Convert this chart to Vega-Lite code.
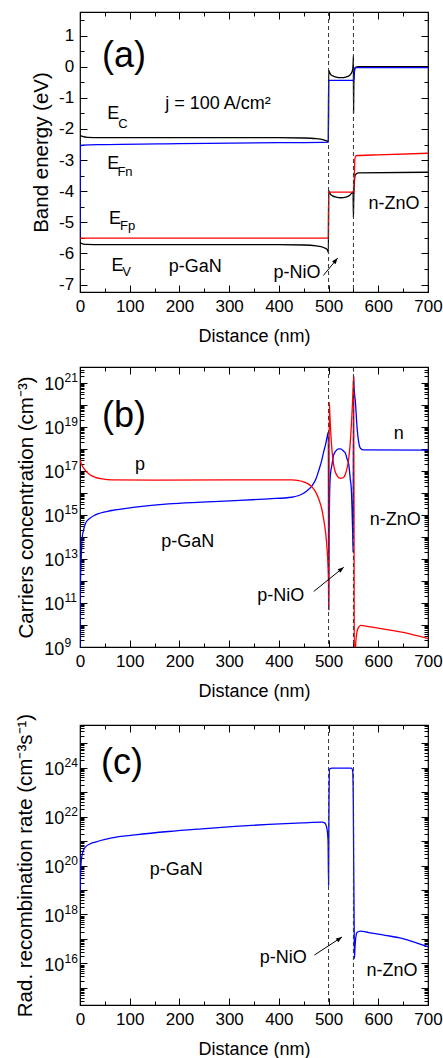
{
  "$schema": "https://vega.github.io/schema/vega-lite/v6.json",
  "background": "white",
  "padding": {"left": 14, "top": 10, "right": 2, "bottom": 2},
  "config": {
    "font": "Liberation Sans",
    "view": {"stroke": "black", "strokeWidth": 1.2},
    "axis": {"domain": false, "grid": false, "tickColor": "black", "tickWidth": 1, "labelColor": "black", "labelFont": "Liberation Sans", "labelFontSize": 17, "titleFont": "Liberation Sans", "titleFontWeight": "normal", "titleColor": "black", "labelFlush": false, "labelOverlap": false},
    "text": {"font": "Liberation Sans", "color": "black"}
  },
  "resolve": {"scale": {"color": "independent"}},
  "datasets": {
    "iface": [{"x": 500}, {"x": 550}],
    "a_lines": [
      {"s": "Ec", "x": 0, "y": -2.2}, {"s": "Ec", "x": 5, "y": -2.24}, {"s": "Ec", "x": 15, "y": -2.27}, {"s": "Ec", "x": 40, "y": -2.28}, {"s": "Ec", "x": 200, "y": -2.28}, {"s": "Ec", "x": 400, "y": -2.28}, {"s": "Ec", "x": 450, "y": -2.29}, {"s": "Ec", "x": 475, "y": -2.31}, {"s": "Ec", "x": 490, "y": -2.35}, {"s": "Ec", "x": 497, "y": -2.39}, {"s": "Ec", "x": 499.6, "y": -2.42}, {"s": "Ec", "x": 500.2, "y": -0.12}, {"s": "Ec", "x": 503, "y": -0.22}, {"s": "Ec", "x": 508, "y": -0.29}, {"s": "Ec", "x": 515, "y": -0.33}, {"s": "Ec", "x": 525, "y": -0.35}, {"s": "Ec", "x": 535, "y": -0.33}, {"s": "Ec", "x": 542, "y": -0.28}, {"s": "Ec", "x": 546, "y": -0.2}, {"s": "Ec", "x": 548.5, "y": -0.08}, {"s": "Ec", "x": 549.5, "y": 0.1}, {"s": "Ec", "x": 550, "y": 0.35}, {"s": "Ec", "x": 550.3, "y": -1.47}, {"s": "Ec", "x": 550.8, "y": -0.6}, {"s": "Ec", "x": 552, "y": -0.1}, {"s": "Ec", "x": 554, "y": -0.02}, {"s": "Ec", "x": 560, "y": 0}, {"s": "Ec", "x": 700, "y": 0},
      {"s": "Ev", "x": 0, "y": -5.66}, {"s": "Ev", "x": 5, "y": -5.69}, {"s": "Ev", "x": 15, "y": -5.71}, {"s": "Ev", "x": 40, "y": -5.72}, {"s": "Ev", "x": 400, "y": -5.72}, {"s": "Ev", "x": 450, "y": -5.73}, {"s": "Ev", "x": 475, "y": -5.76}, {"s": "Ev", "x": 490, "y": -5.81}, {"s": "Ev", "x": 497, "y": -5.87}, {"s": "Ev", "x": 499.6, "y": -5.96}, {"s": "Ev", "x": 500.2, "y": -3.98}, {"s": "Ev", "x": 503, "y": -4.08}, {"s": "Ev", "x": 508, "y": -4.15}, {"s": "Ev", "x": 515, "y": -4.19}, {"s": "Ev", "x": 525, "y": -4.21}, {"s": "Ev", "x": 535, "y": -4.19}, {"s": "Ev", "x": 542, "y": -4.14}, {"s": "Ev", "x": 546, "y": -4.07}, {"s": "Ev", "x": 549.3, "y": -4.02}, {"s": "Ev", "x": 550, "y": -4.84}, {"s": "Ev", "x": 550.6, "y": -4.3}, {"s": "Ev", "x": 552, "y": -3.7}, {"s": "Ev", "x": 554, "y": -3.47}, {"s": "Ev", "x": 560, "y": -3.41}, {"s": "Ev", "x": 700, "y": -3.39},
      {"s": "EFp", "x": 0, "y": -5.51}, {"s": "EFp", "x": 499.6, "y": -5.51}, {"s": "EFp", "x": 500.2, "y": -4.03}, {"s": "EFp", "x": 549.5, "y": -4.03}, {"s": "EFp", "x": 551, "y": -3.9}, {"s": "EFp", "x": 552, "y": -3.4}, {"s": "EFp", "x": 553, "y": -2.95}, {"s": "EFp", "x": 555, "y": -2.86}, {"s": "EFp", "x": 600, "y": -2.83}, {"s": "EFp", "x": 700, "y": -2.78},
      {"s": "EFn", "x": 0, "y": -5.5}, {"s": "EFn", "x": 0.6, "y": -2.56}, {"s": "EFn", "x": 5, "y": -2.52}, {"s": "EFn", "x": 50, "y": -2.5}, {"s": "EFn", "x": 200, "y": -2.47}, {"s": "EFn", "x": 400, "y": -2.44}, {"s": "EFn", "x": 499.6, "y": -2.42}, {"s": "EFn", "x": 500.2, "y": -0.44}, {"s": "EFn", "x": 549.5, "y": -0.44}, {"s": "EFn", "x": 551, "y": -0.35}, {"s": "EFn", "x": 552.5, "y": -0.1}, {"s": "EFn", "x": 554, "y": -0.03}, {"s": "EFn", "x": 700, "y": -0.03}
    ],
    "a_text": [
      {"t": "E", "x": 67, "y": -1.69}, {"t": "E", "x": 67, "y": -3.29}, {"t": "E", "x": 70.4, "y": -5.05}, {"t": "E", "x": 75.5, "y": -6.55},
      {"t": "j = 100 A/cm²", "x": 277.7, "y": -1.37}, {"t": "p-GaN", "x": 232, "y": -6.6}, {"t": "p-NiO", "x": 436.6, "y": -6.79}, {"t": "n-ZnO", "x": 631.8, "y": -4.57}
    ],
    "a_sub": [{"t": "C", "x": 86.5, "y": -1.955}, {"t": "Fn", "x": 90.5, "y": -3.5}, {"t": "Fp", "x": 95.6, "y": -5.25}, {"t": "V", "x": 93.6, "y": -6.71}],
    "a_big": [{"t": "(a)", "x": 88.5, "y": 0.0}],
    "a_arrow": [{"x": 489.5, "y": -6.71, "x2": 518.3, "y2": -6.15}],
    "b_lines": [
      {"s": "n", "x": 0, "y": 7.9e8}, {"s": "n", "x": 0.5, "y": 1e11}, {"s": "n", "x": 1, "y": 1e12}, {"s": "n", "x": 2, "y": 5e12}, {"s": "n", "x": 4, "y": 7.94e13}, {"s": "n", "x": 7, "y": 2e14}, {"s": "n", "x": 10.7, "y": 3.89e14}, {"s": "n", "x": 20, "y": 7.08e14}, {"s": "n", "x": 31, "y": 1e15}, {"s": "n", "x": 64, "y": 1.58e15}, {"s": "n", "x": 111, "y": 2.24e15}, {"s": "n", "x": 178, "y": 3.16e15}, {"s": "n", "x": 245, "y": 3.8e15}, {"s": "n", "x": 312, "y": 4.47e15}, {"s": "n", "x": 380, "y": 5.37e15}, {"s": "n", "x": 426, "y": 6.31e15}, {"s": "n", "x": 440, "y": 7.59e15}, {"s": "n", "x": 447, "y": 8.91e15}, {"s": "n", "x": 458, "y": 1.32e16}, {"s": "n", "x": 467, "y": 2.14e16}, {"s": "n", "x": 475, "y": 4.47e16}, {"s": "n", "x": 480, "y": 1e17}, {"s": "n", "x": 486, "y": 2.82e17}, {"s": "n", "x": 490, "y": 7.08e17}, {"s": "n", "x": 494, "y": 1.58e18}, {"s": "n", "x": 497, "y": 3.39e18}, {"s": "n", "x": 499.5, "y": 5.75e18}, {"s": "n", "x": 500.2, "y": 5e10}, {"s": "n", "x": 501, "y": 1e14}, {"s": "n", "x": 502, "y": 6.3e15}, {"s": "n", "x": 503.6, "y": 6.17e16}, {"s": "n", "x": 507, "y": 2e17}, {"s": "n", "x": 510, "y": 5e17}, {"s": "n", "x": 514, "y": 7.59e17}, {"s": "n", "x": 520, "y": 1e18}, {"s": "n", "x": 524, "y": 1e18}, {"s": "n", "x": 530, "y": 7.94e17}, {"s": "n", "x": 534, "y": 6.31e17}, {"s": "n", "x": 537, "y": 3.55e17}, {"s": "n", "x": 540.5, "y": 2e17}, {"s": "n", "x": 543.8, "y": 3.98e16}, {"s": "n", "x": 545.8, "y": 1.51e16}, {"s": "n", "x": 547, "y": 2.51e15}, {"s": "n", "x": 548.5, "y": 1.58e14}, {"s": "n", "x": 549.3, "y": 2e13}, {"s": "n", "x": 550.3, "y": 2e21}, {"s": "n", "x": 551.5, "y": 5e20}, {"s": "n", "x": 554, "y": 1.32e20}, {"s": "n", "x": 557, "y": 1.15e19}, {"s": "n", "x": 560.6, "y": 2e18}, {"s": "n", "x": 564, "y": 1.07e18}, {"s": "n", "x": 570.7, "y": 8.91e17}, {"s": "n", "x": 700, "y": 8.7e17},
      {"s": "p", "x": 0, "y": 3.16e17}, {"s": "p", "x": 3, "y": 2e17}, {"s": "p", "x": 10.7, "y": 1.05e17}, {"s": "p", "x": 20, "y": 6.6e16}, {"s": "p", "x": 31, "y": 5.1e16}, {"s": "p", "x": 45, "y": 4.27e16}, {"s": "p", "x": 64, "y": 3.89e16}, {"s": "p", "x": 150, "y": 3.8e16}, {"s": "p", "x": 300, "y": 3.89e16}, {"s": "p", "x": 426, "y": 3.89e16}, {"s": "p", "x": 440, "y": 3.63e16}, {"s": "p", "x": 447, "y": 3.31e16}, {"s": "p", "x": 458, "y": 2.63e16}, {"s": "p", "x": 467, "y": 1.82e16}, {"s": "p", "x": 475, "y": 1e16}, {"s": "p", "x": 480, "y": 5.37e15}, {"s": "p", "x": 486, "y": 2e15}, {"s": "p", "x": 490, "y": 6.6e14}, {"s": "p", "x": 494, "y": 1.58e14}, {"s": "p", "x": 497, "y": 2.82e13}, {"s": "p", "x": 499, "y": 3.98e12}, {"s": "p", "x": 499.8, "y": 1e12}, {"s": "p", "x": 500.2, "y": 5e10}, {"s": "p", "x": 500.8, "y": 1e15}, {"s": "p", "x": 501.5, "y": 1.32e20}, {"s": "p", "x": 502.5, "y": 3.98e19}, {"s": "p", "x": 504, "y": 7.94e18}, {"s": "p", "x": 507, "y": 7.94e17}, {"s": "p", "x": 510, "y": 2e17}, {"s": "p", "x": 513.6, "y": 8.9e16}, {"s": "p", "x": 518, "y": 5.62e16}, {"s": "p", "x": 524, "y": 4.57e16}, {"s": "p", "x": 530, "y": 5e16}, {"s": "p", "x": 534, "y": 7.24e16}, {"s": "p", "x": 538, "y": 1.58e17}, {"s": "p", "x": 540.5, "y": 3.55e17}, {"s": "p", "x": 543, "y": 1.26e18}, {"s": "p", "x": 545.8, "y": 1.15e19}, {"s": "p", "x": 547.5, "y": 6.3e19}, {"s": "p", "x": 549, "y": 3.8e20}, {"s": "p", "x": 550.3, "y": 1.78e21}, {"s": "p", "x": 551.2, "y": 1e15}, {"s": "p", "x": 551.8, "y": 3.16e8}, {"s": "p", "x": 553, "y": 3.16e8}, {"s": "p", "x": 555, "y": 2e9}, {"s": "p", "x": 557, "y": 4.68e9}, {"s": "p", "x": 560, "y": 7.59e9}, {"s": "p", "x": 565, "y": 9.55e9}, {"s": "p", "x": 580, "y": 8.5e9}, {"s": "p", "x": 600, "y": 7.24e9}, {"s": "p", "x": 650, "y": 4.57e9}, {"s": "p", "x": 700, "y": 2.4e9}
    ],
    "b_text": [
      {"t": "p", "x": 120.7, "y": 1.05e17}, {"t": "p-GaN", "x": 216.9, "y": 3.39e13}, {"t": "p-NiO", "x": 404, "y": 1.29e11}, {"t": "n-ZnO", "x": 634.3, "y": 3.31e14}, {"t": "n", "x": 641, "y": 2.69e18}
    ],
    "b_big": [{"t": "(b)", "x": 88.5, "y": 1e19}],
    "b_arrow": [{"x": 470.1, "y": 3.31e11, "x2": 530.5, "y2": 4.17e12}],
    "c_lines": [
      {"s": "R", "x": 0, "y": 7.94e18}, {"s": "R", "x": 1, "y": 3.98e19}, {"s": "R", "x": 2.5, "y": 1.58e20}, {"s": "R", "x": 5, "y": 3.16e20}, {"s": "R", "x": 10.7, "y": 5.62e20}, {"s": "R", "x": 20, "y": 7.59e20}, {"s": "R", "x": 31, "y": 9.12e20}, {"s": "R", "x": 64, "y": 1.35e21}, {"s": "R", "x": 111, "y": 1.78e21}, {"s": "R", "x": 178, "y": 2.45e21}, {"s": "R", "x": 245, "y": 3.16e21}, {"s": "R", "x": 312, "y": 3.98e21}, {"s": "R", "x": 380, "y": 4.79e21}, {"s": "R", "x": 447, "y": 5.5e21}, {"s": "R", "x": 487, "y": 5.89e21}, {"s": "R", "x": 492, "y": 5.5e21}, {"s": "R", "x": 495, "y": 4.37e21}, {"s": "R", "x": 497.5, "y": 2.51e21}, {"s": "R", "x": 499, "y": 1e21}, {"s": "R", "x": 500, "y": 1.55e19}, {"s": "R", "x": 500.8, "y": 3.16e22}, {"s": "R", "x": 502, "y": 8.7e23}, {"s": "R", "x": 507, "y": 9.55e23}, {"s": "R", "x": 546, "y": 9.55e23}, {"s": "R", "x": 548.5, "y": 7.24e23}, {"s": "R", "x": 549.8, "y": 3.16e22}, {"s": "R", "x": 550.5, "y": 1.9e20}, {"s": "R", "x": 551.5, "y": 3.16e17}, {"s": "R", "x": 552, "y": 1.58e16}, {"s": "R", "x": 553, "y": 3.98e16}, {"s": "R", "x": 555, "y": 1.26e17}, {"s": "R", "x": 557, "y": 1.82e17}, {"s": "R", "x": 564, "y": 2.09e17}, {"s": "R", "x": 580.6, "y": 1.82e17}, {"s": "R", "x": 614, "y": 1.41e17}, {"s": "R", "x": 647.6, "y": 1.05e17}, {"s": "R", "x": 681, "y": 6.46e16}, {"s": "R", "x": 700, "y": 4.79e16}
    ],
    "c_text": [{"t": "p-GaN", "x": 193.5, "y": 4.17e19}, {"t": "p-NiO", "x": 408.7, "y": 1e16}, {"t": "n-ZnO", "x": 627.6, "y": 3.16e15}],
    "c_big": [{"t": "(c)", "x": 84.5, "y": 5.5e23}],
    "c_arrow": [{"x": 471.4, "y": 2.19e16, "x2": 527, "y2": 1.2e17}]
  },
  "bounds": "flush",
  "spacing": 75,
  "vconcat": [
    {
      "width": 348, "height": 280,
      "resolve": {"axis": {"x": "independent", "y": "independent"}},
      "layer": [
        {
          "data": {"name": "a_lines"},
          "mark": {"type": "line", "strokeWidth": 1.3, "interpolate": "monotone", "clip": true},
          "encoding": {
            "x": {"field": "x", "type": "quantitative", "scale": {"domain": [0, 700], "nice": false},
              "axis": {"orient": "bottom", "values": [0,50,100,150,200,250,300,350,400,450,500,550,600,650,700], "title": "Distance (nm)", "titleFontSize": 18, "titleY": 49, "titleBaseline": "alphabetic", "labelExpr": "datum.value % 100 === 0 ? '' + datum.value : ''", "tickSize": {"condition": {"test": "datum.value % 100 === 0", "value": -7}, "value": -4}, "labelPadding": 13}},
            "y": {"field": "y", "type": "quantitative", "scale": {"domain": [-7.24, 1.76], "nice": false, "zero": false},
              "axis": {"orient": "left", "values": [-7,-6.5,-6,-5.5,-5,-4.5,-4,-3.5,-3,-2.5,-2,-1.5,-1,-0.5,0,0.5,1,1.5], "title": "Band energy (eV)", "titleFontSize": 20.5, "titleX": -39, "titleBaseline": "middle", "labelExpr": "datum.value % 1 === 0 ? '' + datum.value : ''", "tickSize": {"condition": {"test": "datum.value % 1 === 0", "value": -7}, "value": -4}, "labelPadding": 13.3, "labelBaseline": "middle"}},
            "color": {"field": "s", "type": "nominal", "scale": {"domain": ["Ec", "Ev", "EFp", "EFn"], "range": ["black", "black", "red", "blue"]}, "legend": null}
          }
        },
        {
          "data": {"name": "iface"},
          "mark": {"type": "rule", "color": "#333333", "strokeWidth": 1, "strokeDash": [4, 3]},
          "encoding": {"x": {"field": "x", "type": "quantitative", "scale": {"domain": [0, 700], "nice": false}, "axis": null}}
        },
        {
          "data": {"name": "a_text"},
          "mark": {"type": "text", "fontSize": 18, "align": "center", "baseline": "alphabetic"},
          "encoding": {
            "x": {"field": "x", "type": "quantitative", "scale": {"domain": [0, 700], "nice": false},
              "axis": {"orient": "top", "values": [0,50,100,150,200,250,300,350,400,450,500,550,600,650,700], "title": null, "labels": false, "tickSize": {"condition": {"test": "datum.value % 100 === 0", "value": -7}, "value": -4}}},
            "y": {"field": "y", "type": "quantitative", "scale": {"domain": [-7.24, 1.76], "nice": false, "zero": false},
              "axis": {"orient": "right", "values": [-7,-6.5,-6,-5.5,-5,-4.5,-4,-3.5,-3,-2.5,-2,-1.5,-1,-0.5,0,0.5,1,1.5], "title": null, "labels": false, "tickSize": {"condition": {"test": "datum.value % 1 === 0", "value": -7}, "value": -4}}},
            "text": {"field": "t"}
          }
        },
        {
          "data": {"name": "a_sub"},
          "mark": {"type": "text", "fontSize": 13, "align": "center", "baseline": "alphabetic"},
          "encoding": {
            "x": {"field": "x", "type": "quantitative", "scale": {"domain": [0, 700], "nice": false}, "axis": null},
            "y": {"field": "y", "type": "quantitative", "scale": {"domain": [-7.24, 1.76], "nice": false, "zero": false}, "axis": null},
            "text": {"field": "t"}
          }
        },
        {
          "data": {"name": "a_big"},
          "mark": {"type": "text", "fontSize": 36, "align": "center", "baseline": "alphabetic"},
          "encoding": {
            "x": {"field": "x", "type": "quantitative", "scale": {"domain": [0, 700], "nice": false}, "axis": null},
            "y": {"field": "y", "type": "quantitative", "scale": {"domain": [-7.24, 1.76], "nice": false, "zero": false}, "axis": null},
            "text": {"field": "t"}
          }
        },
        {
          "data": {"name": "a_arrow"},
          "mark": {"type": "rule", "color": "black", "strokeWidth": 1},
          "encoding": {
            "x": {"field": "x", "type": "quantitative", "scale": {"domain": [0, 700], "nice": false}, "axis": null},
            "y": {"field": "y", "type": "quantitative", "scale": {"domain": [-7.24, 1.76], "nice": false, "zero": false}, "axis": null},
            "x2": {"field": "x2"}, "y2": {"field": "y2"}
          }
        },
        {
          "data": {"name": "a_arrow"},
          "mark": {"type": "point", "shape": "M0,0L0.45,1.2L-0.45,1.2Z", "filled": true, "color": "black", "size": 100, "angle": 40, "opacity": 1},
          "encoding": {
            "x": {"field": "x2", "type": "quantitative", "scale": {"domain": [0, 700], "nice": false}, "axis": null},
            "y": {"field": "y2", "type": "quantitative", "scale": {"domain": [-7.24, 1.76], "nice": false, "zero": false}, "axis": null}
          }
        }
      ]
    },
    {
      "bounds": "flush",
      "spacing": 78,
      "resolve": {"scale": {"color": "independent"}},
      "vconcat": [
        {
          "width": 348, "height": 280,
          "resolve": {"axis": {"x": "independent", "y": "independent"}},
          "layer": [
            {
              "data": {"name": "b_lines"},
              "mark": {"type": "line", "strokeWidth": 1.3, "interpolate": "monotone", "clip": true},
              "encoding": {
                "x": {"field": "x", "type": "quantitative", "scale": {"domain": [0, 700], "nice": false},
                  "axis": {"orient": "bottom", "values": [0,50,100,150,200,250,300,350,400,450,500,550,600,650,700], "title": "Distance (nm)", "titleFontSize": 18, "titleY": 49, "titleBaseline": "alphabetic", "labelExpr": "datum.value % 100 === 0 ? '' + datum.value : ''", "tickSize": {"condition": {"test": "datum.value % 100 === 0", "value": -7}, "value": -4}, "labelPadding": 13}},
                "y": {"field": "y", "type": "quantitative", "scale": {"type": "log", "domain": [1e9, 5.2e21], "nice": false},
                  "axis": {"orient": "left", "values": [1e9,2e9,3e9,4e9,5e9,6e9,7e9,8e9,9e9,1e10,2e10,3e10,4e10,5e10,6e10,7e10,8e10,9e10,1e11,2e11,3e11,4e11,5e11,6e11,7e11,8e11,9e11,1e12,2e12,3e12,4e12,5e12,6e12,7e12,8e12,9e12,1e13,2e13,3e13,4e13,5e13,6e13,7e13,8e13,9e13,1e14,2e14,3e14,4e14,5e14,6e14,7e14,8e14,9e14,1e15,2e15,3e15,4e15,5e15,6e15,7e15,8e15,9e15,1e16,2e16,3e16,4e16,5e16,6e16,7e16,8e16,9e16,1e17,2e17,3e17,4e17,5e17,6e17,7e17,8e17,9e17,1e18,2e18,3e18,4e18,5e18,6e18,7e18,8e18,9e18,1e19,2e19,3e19,4e19,5e19,6e19,7e19,8e19,9e19,1e20,2e20,3e20,4e20,5e20,6e20,7e20,8e20,9e20,1e21,2e21,3e21,4e21,5e21], "title": "Carriers concentration (cm⁻³)", "titleFontSize": 20.5, "titleX": -54, "titleBaseline": "middle", "labelExpr": "abs(log(datum.value)/LN10 - round(log(datum.value)/LN10)) < 0.001 && round(log(datum.value)/LN10) % 2 === 1 ? '10' : ''", "tickSize": {"condition": {"test": "abs(log(datum.value)/LN10 - round(log(datum.value)/LN10)) < 0.001", "value": -7}, "value": -4}, "labelPadding": 23.3, "labelFontSize": 18, "labelBaseline": "middle", "labelOffset": 2}},
                "color": {"field": "s", "type": "nominal", "scale": {"domain": ["n", "p"], "range": ["blue", "red"]}, "legend": null}
              }
            },
            {
              "data": {"name": "iface"},
              "mark": {"type": "rule", "color": "#333333", "strokeWidth": 1, "strokeDash": [4, 3]},
              "encoding": {"x": {"field": "x", "type": "quantitative", "scale": {"domain": [0, 700], "nice": false}, "axis": null}}
            },
            {
              "data": {"name": "b_text"},
              "mark": {"type": "text", "fontSize": 18, "align": "center", "baseline": "alphabetic"},
              "encoding": {
                "x": {"field": "x", "type": "quantitative", "scale": {"domain": [0, 700], "nice": false},
                  "axis": {"orient": "top", "values": [0,50,100,150,200,250,300,350,400,450,500,550,600,650,700], "title": null, "labels": false, "tickSize": {"condition": {"test": "datum.value % 100 === 0", "value": -7}, "value": -4}}},
                "y": {"field": "y", "type": "quantitative", "scale": {"type": "log", "domain": [1e9, 5.2e21], "nice": false},
                  "axis": {"orient": "right", "values": [1e9,2e9,3e9,4e9,5e9,6e9,7e9,8e9,9e9,1e10,2e10,3e10,4e10,5e10,6e10,7e10,8e10,9e10,1e11,2e11,3e11,4e11,5e11,6e11,7e11,8e11,9e11,1e12,2e12,3e12,4e12,5e12,6e12,7e12,8e12,9e12,1e13,2e13,3e13,4e13,5e13,6e13,7e13,8e13,9e13,1e14,2e14,3e14,4e14,5e14,6e14,7e14,8e14,9e14,1e15,2e15,3e15,4e15,5e15,6e15,7e15,8e15,9e15,1e16,2e16,3e16,4e16,5e16,6e16,7e16,8e16,9e16,1e17,2e17,3e17,4e17,5e17,6e17,7e17,8e17,9e17,1e18,2e18,3e18,4e18,5e18,6e18,7e18,8e18,9e18,1e19,2e19,3e19,4e19,5e19,6e19,7e19,8e19,9e19,1e20,2e20,3e20,4e20,5e20,6e20,7e20,8e20,9e20,1e21,2e21,3e21,4e21,5e21], "title": null, "labels": false, "tickSize": {"condition": {"test": "abs(log(datum.value)/LN10 - round(log(datum.value)/LN10)) < 0.001", "value": -7}, "value": -4}}},
                "text": {"field": "t"}
              }
            },
            {
              "data": {"name": "b_big"},
              "mark": {"type": "text", "fontSize": 36, "align": "center", "baseline": "alphabetic"},
              "encoding": {
                "x": {"field": "x", "type": "quantitative", "scale": {"domain": [0, 700], "nice": false}, "axis": null},
                "y": {"field": "y", "type": "quantitative", "scale": {"type": "log", "domain": [1e9, 5.2e21], "nice": false},
                  "axis": {"orient": "left", "values": [1e9,1e11,1e13,1e15,1e17,1e19,1e21], "title": null, "ticks": false, "tickSize": 0, "labelExpr": "'' + round(log(datum.value)/LN10)", "labelAlign": "left", "labelPadding": 16, "labelFontSize": 12, "labelBaseline": "middle", "labelOffset": -5}},
                "text": {"field": "t"}
              }
            },
            {
              "data": {"name": "b_arrow"},
              "mark": {"type": "rule", "color": "black", "strokeWidth": 1},
              "encoding": {
                "x": {"field": "x", "type": "quantitative", "scale": {"domain": [0, 700], "nice": false}, "axis": null},
                "y": {"field": "y", "type": "quantitative", "scale": {"type": "log", "domain": [1e9, 5.2e21], "nice": false}, "axis": null},
                "x2": {"field": "x2"}, "y2": {"field": "y2"}
              }
            },
            {
              "data": {"name": "b_arrow"},
              "mark": {"type": "point", "shape": "M0,0L0.45,1.2L-0.45,1.2Z", "filled": true, "color": "black", "size": 100, "angle": 51, "opacity": 1},
              "encoding": {
                "x": {"field": "x2", "type": "quantitative", "scale": {"domain": [0, 700], "nice": false}, "axis": null},
                "y": {"field": "y2", "type": "quantitative", "scale": {"type": "log", "domain": [1e9, 5.2e21], "nice": false}, "axis": null}
              }
            }
          ]
        },
        {
          "width": 348, "height": 280,
          "resolve": {"axis": {"x": "independent", "y": "independent"}},
          "layer": [
            {
              "data": {"name": "c_lines"},
              "mark": {"type": "line", "strokeWidth": 1.3, "interpolate": "monotone", "clip": true, "color": "blue"},
              "encoding": {
                "x": {"field": "x", "type": "quantitative", "scale": {"domain": [0, 700], "nice": false},
                  "axis": {"orient": "bottom", "values": [0,50,100,150,200,250,300,350,400,450,500,550,600,650,700], "title": "Distance (nm)", "titleFontSize": 18, "titleY": 49, "titleBaseline": "alphabetic", "labelExpr": "datum.value % 100 === 0 ? '' + datum.value : ''", "tickSize": {"condition": {"test": "datum.value % 100 === 0", "value": -7}, "value": -4}, "labelPadding": 13}},
                "y": {"field": "y", "type": "quantitative", "scale": {"type": "log", "domain": [2e14, 5.5e25], "nice": false},
                  "axis": {"orient": "left", "values": [2e14,3e14,4e14,5e14,6e14,7e14,8e14,9e14,1e15,2e15,3e15,4e15,5e15,6e15,7e15,8e15,9e15,1e16,2e16,3e16,4e16,5e16,6e16,7e16,8e16,9e16,1e17,2e17,3e17,4e17,5e17,6e17,7e17,8e17,9e17,1e18,2e18,3e18,4e18,5e18,6e18,7e18,8e18,9e18,1e19,2e19,3e19,4e19,5e19,6e19,7e19,8e19,9e19,1e20,2e20,3e20,4e20,5e20,6e20,7e20,8e20,9e20,1e21,2e21,3e21,4e21,5e21,6e21,7e21,8e21,9e21,1e22,2e22,3e22,4e22,5e22,6e22,7e22,8e22,9e22,1e23,2e23,3e23,4e23,5e23,6e23,7e23,8e23,9e23,1e24,2e24,3e24,4e24,5e24,6e24,7e24,8e24,9e24,1e25,2e25,3e25,4e25,5e25], "title": "Rad. recombination rate (cm⁻³s⁻¹)", "titleFontSize": 20.5, "titleX": -55, "titleBaseline": "middle", "labelExpr": "abs(log(datum.value)/LN10 - round(log(datum.value)/LN10)) < 0.001 && round(log(datum.value)/LN10) % 2 === 0 ? '10' : ''", "tickSize": {"condition": {"test": "abs(log(datum.value)/LN10 - round(log(datum.value)/LN10)) < 0.001", "value": -7}, "value": -4}, "labelPadding": 23.3, "labelFontSize": 18, "labelBaseline": "middle", "labelOffset": 2}}
              }
            },
            {
              "data": {"name": "iface"},
              "mark": {"type": "rule", "color": "#333333", "strokeWidth": 1, "strokeDash": [4, 3]},
              "encoding": {"x": {"field": "x", "type": "quantitative", "scale": {"domain": [0, 700], "nice": false}, "axis": null}}
            },
            {
              "data": {"name": "c_text"},
              "mark": {"type": "text", "fontSize": 18, "align": "center", "baseline": "alphabetic"},
              "encoding": {
                "x": {"field": "x", "type": "quantitative", "scale": {"domain": [0, 700], "nice": false},
                  "axis": {"orient": "top", "values": [0,50,100,150,200,250,300,350,400,450,500,550,600,650,700], "title": null, "labels": false, "tickSize": {"condition": {"test": "datum.value % 100 === 0", "value": -7}, "value": -4}}},
                "y": {"field": "y", "type": "quantitative", "scale": {"type": "log", "domain": [2e14, 5.5e25], "nice": false},
                  "axis": {"orient": "right", "values": [2e14,3e14,4e14,5e14,6e14,7e14,8e14,9e14,1e15,2e15,3e15,4e15,5e15,6e15,7e15,8e15,9e15,1e16,2e16,3e16,4e16,5e16,6e16,7e16,8e16,9e16,1e17,2e17,3e17,4e17,5e17,6e17,7e17,8e17,9e17,1e18,2e18,3e18,4e18,5e18,6e18,7e18,8e18,9e18,1e19,2e19,3e19,4e19,5e19,6e19,7e19,8e19,9e19,1e20,2e20,3e20,4e20,5e20,6e20,7e20,8e20,9e20,1e21,2e21,3e21,4e21,5e21,6e21,7e21,8e21,9e21,1e22,2e22,3e22,4e22,5e22,6e22,7e22,8e22,9e22,1e23,2e23,3e23,4e23,5e23,6e23,7e23,8e23,9e23,1e24,2e24,3e24,4e24,5e24,6e24,7e24,8e24,9e24,1e25,2e25,3e25,4e25,5e25], "title": null, "labels": false, "tickSize": {"condition": {"test": "abs(log(datum.value)/LN10 - round(log(datum.value)/LN10)) < 0.001", "value": -7}, "value": -4}}},
                "text": {"field": "t"}
              }
            },
            {
              "data": {"name": "c_big"},
              "mark": {"type": "text", "fontSize": 36, "align": "center", "baseline": "alphabetic"},
              "encoding": {
                "x": {"field": "x", "type": "quantitative", "scale": {"domain": [0, 700], "nice": false}, "axis": null},
                "y": {"field": "y", "type": "quantitative", "scale": {"type": "log", "domain": [2e14, 5.5e25], "nice": false},
                  "axis": {"orient": "left", "values": [1e16,1e18,1e20,1e22,1e24], "title": null, "ticks": false, "tickSize": 0, "labelExpr": "'' + round(log(datum.value)/LN10)", "labelAlign": "left", "labelPadding": 16, "labelFontSize": 12, "labelBaseline": "middle", "labelOffset": -5}},
                "text": {"field": "t"}
              }
            },
            {
              "data": {"name": "c_arrow"},
              "mark": {"type": "rule", "color": "black", "strokeWidth": 1},
              "encoding": {
                "x": {"field": "x", "type": "quantitative", "scale": {"domain": [0, 700], "nice": false}, "axis": null},
                "y": {"field": "y", "type": "quantitative", "scale": {"type": "log", "domain": [2e14, 5.5e25], "nice": false}, "axis": null},
                "x2": {"field": "x2"}, "y2": {"field": "y2"}
              }
            },
            {
              "data": {"name": "c_arrow"},
              "mark": {"type": "point", "shape": "M0,0L0.45,1.2L-0.45,1.2Z", "filled": true, "color": "black", "size": 100, "angle": 56, "opacity": 1},
              "encoding": {
                "x": {"field": "x2", "type": "quantitative", "scale": {"domain": [0, 700], "nice": false}, "axis": null},
                "y": {"field": "y2", "type": "quantitative", "scale": {"type": "log", "domain": [2e14, 5.5e25], "nice": false}, "axis": null}
              }
            }
          ]
        }
      ]
    }
  ]
}
